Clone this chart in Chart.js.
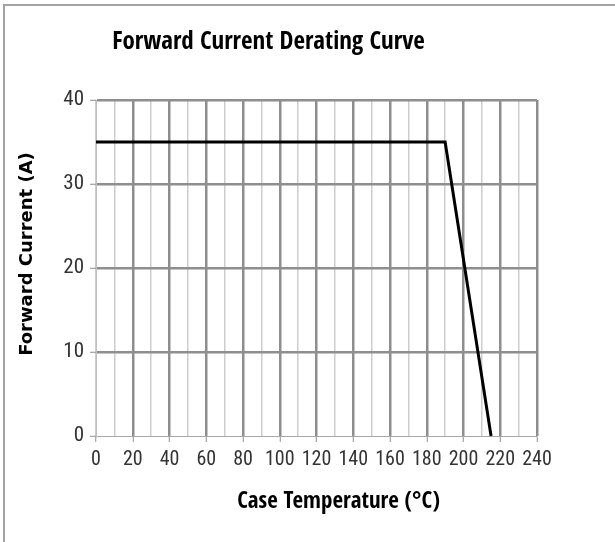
<!DOCTYPE html>
<html>
<head>
<meta charset="utf-8">
<script src="https://cdn.jsdelivr.net/npm/chart.js@4"></script>
<style>
  html, body { margin: 0; padding: 0; background: #fff; }
  #wrap { position: relative; width: 615px; height: 542px; overflow: hidden; }
  #frame { position: absolute; left: 3px; top: 4px; right: -10px; bottom: -10px;
           border-top: 2px solid #a3a3a3; border-left: 2px solid #a3a3a3; }
  #chart { position: absolute; left: 0; top: 0; }
</style>
</head>
<body>
<div id="wrap">
  <div id="frame"></div>
  <canvas id="chart" width="615" height="542"></canvas>
</div>
<script>
// ── DATA ──
const temps = [0, 190, 215];          // case temperature (°C)
const currents = [35, 35, 0];         // forward current (A)
const xTickLabels = [0, 20, 40, 60, 80, 100, 120, 140, 160, 180, 200, 220, 240];
const yTickLabels = [0, 10, 20, 30, 40];

const chartTitle = 'Forward Current Derating Curve';
const xTitle = 'Case Temperature (°C)';
const yTitle = 'Forward Current (A)';

const TITLE_FAMILY = '"Open Sans Condensed", "DejaVu Sans Condensed", sans-serif';
const TICK_FAMILY = '"Roboto Condensed", "DejaVu Sans Condensed", sans-serif';

// ── AXIS TITLES (offset from plot centre like the original) ──
const axisTitles = {
  id: 'axisTitles',
  afterDraw(chart) {
    const { ctx, chartArea } = chart;
    ctx.save();
    ctx.fillStyle = '#000';
    ctx.textAlign = 'center';
    ctx.textBaseline = 'middle';
    ctx.font = 'bold 23px ' + TITLE_FAMILY;
    ctx.fillText(xTitle, (chartArea.left + chartArea.right) / 2 + 22, chartArea.bottom + 66);
    ctx.translate(27, (chartArea.top + chartArea.bottom) / 2 - 14);
    ctx.rotate(-Math.PI / 2);
    ctx.font = 'bold 18px "DejaVu Sans", sans-serif';
    ctx.fillText(yTitle, 0, 0);
    ctx.restore();
  }
};

const isMajorX = v => v % 20 === 0;

new Chart(document.getElementById('chart'), {
  type: 'scatter',
  data: {
    datasets: [{
      data: temps.map((t, i) => ({ x: t, y: currents[i] })),
      showLine: true,
      borderColor: '#000',
      borderWidth: 3,
      pointRadius: 0,
      tension: 0,
      clip: false,
    }]
  },
  options: {
    responsive: false,
    animation: false,
    devicePixelRatio: 1,
    layout: { padding: { left: 0, top: 0, right: 78, bottom: 0 } },
    plugins: {
      legend: { display: false },
      tooltip: { enabled: false },
      title: {
        display: true,
        text: chartTitle,
        color: '#000',
        font: { family: TITLE_FAMILY, size: 25, weight: 'bold' },
        padding: { top: 27, bottom: 43 }
      }
    },
    scales: {
      x: {
        type: 'linear',
        min: 0, max: 240,
        afterFit: s => { s.height = 106; },
        ticks: {
          stepSize: 10,
          autoSkip: false,
          maxRotation: 0,
          padding: 6,
          color: '#333',
          font: { family: TICK_FAMILY, size: 20 },
          callback: v => xTickLabels.includes(v) ? String(v) : ''
        },
        grid: {
          color: c => (isMajorX(c.tick.value) && c.tick.value !== 0) ? '#8e8e8e' : '#cdcdcd',
          lineWidth: c => (isMajorX(c.tick.value) && c.tick.value !== 0) ? 2.5 : 1.5,
          tickColor: c => isMajorX(c.tick.value) ? '#8e8e8e' : 'rgba(0,0,0,0)',
          tickWidth: 1,
          tickLength: 6
        },
        border: { color: '#a8a8a8', width: 1 }
      },
      y: {
        min: 0, max: 40,
        afterFit: s => { s.width = 96; },
        ticks: {
          stepSize: 10,
          padding: 6,
          color: '#333',
          font: { family: TICK_FAMILY, size: 21 },
          callback: v => yTickLabels.includes(v) ? String(v) : ''
        },
        grid: {
          color: c => c.tick.value === 0 ? 'rgba(0,0,0,0)' : '#8e8e8e',
          lineWidth: 2.5,
          tickColor: '#8e8e8e',
          tickWidth: 1,
          tickLength: 6
        },
        border: { color: '#c0c0c0', width: 1 }
      }
    }
  },
  plugins: [axisTitles]
});
</script>
</body>
</html>
